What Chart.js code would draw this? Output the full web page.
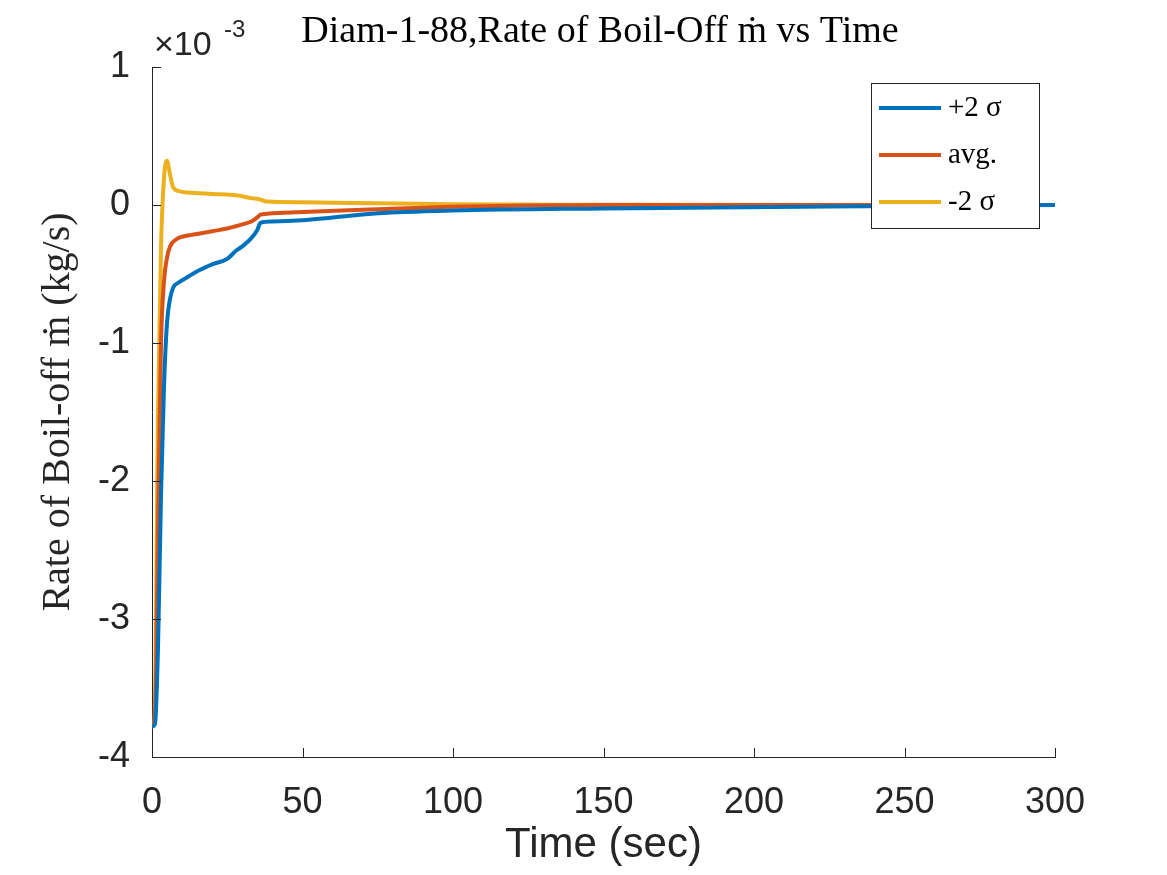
<!DOCTYPE html>
<html><head><meta charset="utf-8">
<script src="https://cdn.jsdelivr.net/npm/chart.js@4"></script>
<style>body{margin:0;background:#fff}#w{width:1167px;height:875px}</style>
</head><body><div id="w"><canvas id="c"></canvas></div>
<script>
const tPlus = [0, 1, 2, 3, 4, 5, 6, 7, 9, 12, 15, 20, 25, 28, 30, 33, 35, 36, 40, 50, 60, 75, 100, 150, 225, 300];
const plus2 = [-3.78, -3.76, -3.2, -2.1, -1.3, -0.85, -0.68, -0.6, -0.56, -0.52, -0.48, -0.43, -0.39, -0.33, -0.3, -0.24, -0.18, -0.13, -0.12, -0.11, -0.09, -0.06, -0.04, -0.025, -0.01, 0];
const tAvg = [0, 1, 2, 3, 4, 5, 6, 8, 10, 15, 20, 25, 30, 33, 35, 36, 40, 50, 75, 100, 150, 300];
const avg = [-3.78, -3.7, -2.3, -1.0, -0.55, -0.38, -0.3, -0.25, -0.23, -0.21, -0.19, -0.17, -0.14, -0.12, -0.09, -0.07, -0.06, -0.05, -0.03, -0.012, 0, 0];
const tMinus = [0, 0.8, 2, 3, 4, 5, 6, 7, 9, 12, 20, 28, 33, 36, 38, 50, 75, 100, 150, 300];
const minus2 = [-3.78, -3.75, -1.5, -0.3, 0.2, 0.32, 0.22, 0.13, 0.1, 0.09, 0.08, 0.07, 0.05, 0.04, 0.025, 0.02, 0.012, 0.005, 0.002, 0];
const seriesNames = ['+2 \u03c3', 'avg.', '-2 \u03c3'];
const colors = ['#0072BD', '#D95319', '#EDB120'];
const xTicks = [0, 50, 100, 150, 200, 250, 300];
const yTicks = [-4, -3, -2, -1, 0, 1];

const pts = (t, v) => t.map((x, i) => ({x, y: v[i]}));
const sets = [pts(tPlus, plus2), pts(tAvg, avg), pts(tMinus, minus2)];

const extras = {
  id: 'extras',
  afterDraw(ch) {
    const ctx = ch.ctx, a = ch.chartArea;
    ctx.save();
    // inward tick marks
    ctx.strokeStyle = '#262626'; ctx.lineWidth = 1;
    xTicks.forEach(v => { const x = Math.round(ch.scales.x.getPixelForValue(v)) + 0.5;
      ctx.beginPath(); ctx.moveTo(x, a.bottom); ctx.lineTo(x, a.bottom - 9); ctx.stroke(); });
    yTicks.forEach(v => { const y = Math.round(ch.scales.y.getPixelForValue(v)) + 0.5;
      ctx.beginPath(); ctx.moveTo(a.left, y); ctx.lineTo(a.left + 9, y); ctx.stroke(); });
    ctx.fillStyle = '#262626';
    ctx.font = '34px "Liberation Sans", Arial';
    ctx.textBaseline = 'alphabetic';
    ctx.fillText('\u00d710', a.left + 2, a.top - 12);
    ctx.font = '24px "Liberation Sans", Arial';
    ctx.fillText('-3', a.left + 72, a.top - 30);
    ctx.fillStyle = '#000';
    ctx.font = '38px "Liberation Serif", "DejaVu Serif", serif';
    ctx.textAlign = 'center';
    ctx.fillText('Diam-1-88,Rate of Boil-Off \u1e41 vs Time', 600, 42);
    // legend
    const lx = 871, ly = 83, lw = 168, lh = 145;
    ctx.fillStyle = '#fff';
    ctx.fillRect(lx, ly, lw, lh);
    ctx.strokeStyle = '#262626'; ctx.lineWidth = 1;
    ctx.strokeRect(lx + 0.5, ly + 0.5, lw, lh);
    ctx.textAlign = 'left'; ctx.textBaseline = 'middle';
    ctx.font = '29px "Liberation Serif", serif';
    seriesNames.forEach((n, i) => {
      const y = ly + 25 + i * 47;
      ctx.strokeStyle = colors[i]; ctx.lineWidth = 4;
      ctx.beginPath(); ctx.moveTo(lx + 8, y); ctx.lineTo(lx + 70, y); ctx.stroke();
      ctx.fillStyle = '#000';
      ctx.fillText(n, lx + 77, y);
    });
    ctx.restore();
  }
};

new Chart(document.getElementById('c'), {
  type: 'line',
  data: { datasets: sets.map((d, i) => ({
    label: seriesNames[i], data: d, borderColor: colors[i], borderWidth: 4,
    pointRadius: 0, tension: 0.3, cubicInterpolationMode: 'monotone', fill: false
  })) },
  options: {
    responsive: true, maintainAspectRatio: false, animation: false,
    layout: { padding: { left: 30, right: 112, top: 67, bottom: 0 } },
    plugins: { legend: { display: false }, tooltip: { enabled: false } },
    scales: {
      x: {
        type: 'linear', min: 0, max: 300,
        afterFit(s) { s.height = 118; },
        afterBuildTicks(s) { s.ticks = xTicks.map(v => ({value: v})); },
        grid: { display: false },
        border: { color: '#262626', width: 1 },
        ticks: { color: '#262626', font: { size: 36, family: '"Liberation Sans", Arial' }, padding: 16, maxRotation: 0 },
        title: { display: true, text: 'Time (sec)', color: '#262626', font: { size: 42, family: '"Liberation Sans", Arial' }, padding: { top: 0, bottom: 4 } }
      },
      y: {
        min: -4, max: 1,
        afterFit(s) { s.width = 122; },
        afterBuildTicks(s) { s.ticks = yTicks.map(v => ({value: v})); },
        grid: { display: false },
        border: { color: '#262626', width: 1 },
        ticks: { color: '#262626', font: { size: 36, family: '"Liberation Sans", Arial' }, padding: 14 },
        title: { display: true, text: 'Rate of Boil-off \u1e41 (kg/s)', color: '#262626', font: { size: 40, family: '"Liberation Serif", serif' }, padding: { bottom: 0 } }
      }
    }
  },
  plugins: [extras]
});
</script>
</body></html>
